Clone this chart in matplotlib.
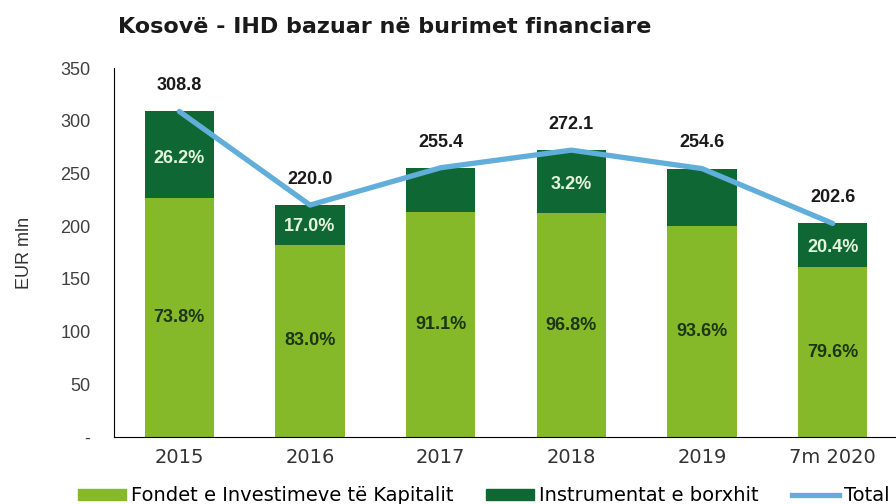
import matplotlib
matplotlib.use('Agg')
import matplotlib.pyplot as plt
from matplotlib.lines import Line2D
from matplotlib.patches import Patch

# data
years = ['2015', '2016', '2017', '2018', '2019', '7m 2020']
equity = [227.0, 182.5, 213.0, 212.0, 200.0, 161.0]   # Fondet e Investimeve te Kapitalit
debt = [81.8, 37.5, 42.4, 60.1, 54.6, 41.6]           # Instrumentat e borxhit
totals = [308.8, 220.0, 255.4, 272.1, 254.6, 202.6]
equity_pct = ['73.8%', '83.0%', '91.1%', '96.8%', '93.6%', '79.6%']
debt_pct = ['26.2%', '17.0%', '', '3.2%', '', '20.4%']
y_ticks = [0, 50, 100, 150, 200, 250, 300, 350]
y_tick_labels = ['-', '50', '100', '150', '200', '250', '300', '350']

LIGHT = '#86b92a'
DARK = '#0f6834'
BLUE = '#62aedb'

fig = plt.figure(figsize=(8.96, 5.04), dpi=100)
ax = fig.add_axes([114 / 896, 67 / 504, 784 / 896, 369 / 504])

x = range(len(years))
ax.bar(x, equity, width=0.53, color=LIGHT, zorder=2)
ax.bar(x, debt, width=0.53, bottom=equity, color=DARK, zorder=2)
ax.plot(x, totals, color=BLUE, linewidth=3.8, zorder=3, solid_capstyle='round')

# percentage labels inside the bars, totals above
for i in x:
    ax.text(i, equity[i] / 2, equity_pct[i], ha='center', va='center',
            fontsize=13, fontweight='bold', color='#1c3612',
            family='Liberation Sans', zorder=4)
    if debt_pct[i]:
        ax.text(i, equity[i] + 0.45 * debt[i], debt_pct[i], ha='center', va='center',
                fontsize=13, fontweight='bold', color='#e4f4da',
                family='Liberation Sans', zorder=4)
    ax.annotate(f'{totals[i]:.1f}', (i, totals[i]), xytext=(0, 18.5),
                textcoords='offset points', ha='center', va='center',
                fontsize=13, fontweight='bold', color='#1a1a1a',
                family='Liberation Sans', zorder=4)

ax.set_xlim(-0.5, 5.5)
ax.set_ylim(0, 350)
ax.set_xticks(list(x))
ax.set_xticklabels(years, fontsize=14, color='#333333', family='DejaVu Sans')
ax.set_yticks(y_ticks)
ax.set_yticklabels(y_tick_labels, fontsize=13, color='#404040', family='Liberation Sans')
ax.tick_params(axis='both', length=0)
ax.tick_params(axis='y', pad=17)
ax.tick_params(axis='x', pad=8)

ax.set_ylabel('EUR mln', fontsize=13, color='#333333', family='Liberation Sans')
ax.yaxis.set_label_coords(-0.103, 0.5)

for side in ['top', 'right']:
    ax.spines[side].set_visible(False)
ax.spines['left'].set_color('black')
ax.spines['bottom'].set_color('black')

fig.text(118 / 896, 1 - 27 / 504, 'Kosovë - IHD bazuar në burimet financiare',
         ha='left', va='center', fontsize=16, fontweight='bold', color='#1a1a1a',
         family='DejaVu Sans')

handles = [Patch(color=LIGHT), Patch(color=DARK), Line2D([0], [0], color=BLUE, linewidth=3.8)]
labels = ['Fondet e Investimeve të Kapitalit', 'Instrumentat e borxhit', 'Total']
fig.legend(handles, labels, loc='center', bbox_to_anchor=(484 / 896, 0.016),
           ncol=3, frameon=False, handlelength=2.45, handleheight=0.55,
           handletextpad=0.25, columnspacing=1.7, prop={'family': 'DejaVu Sans', 'size': 14})

fig.savefig('out.png', dpi=100)
